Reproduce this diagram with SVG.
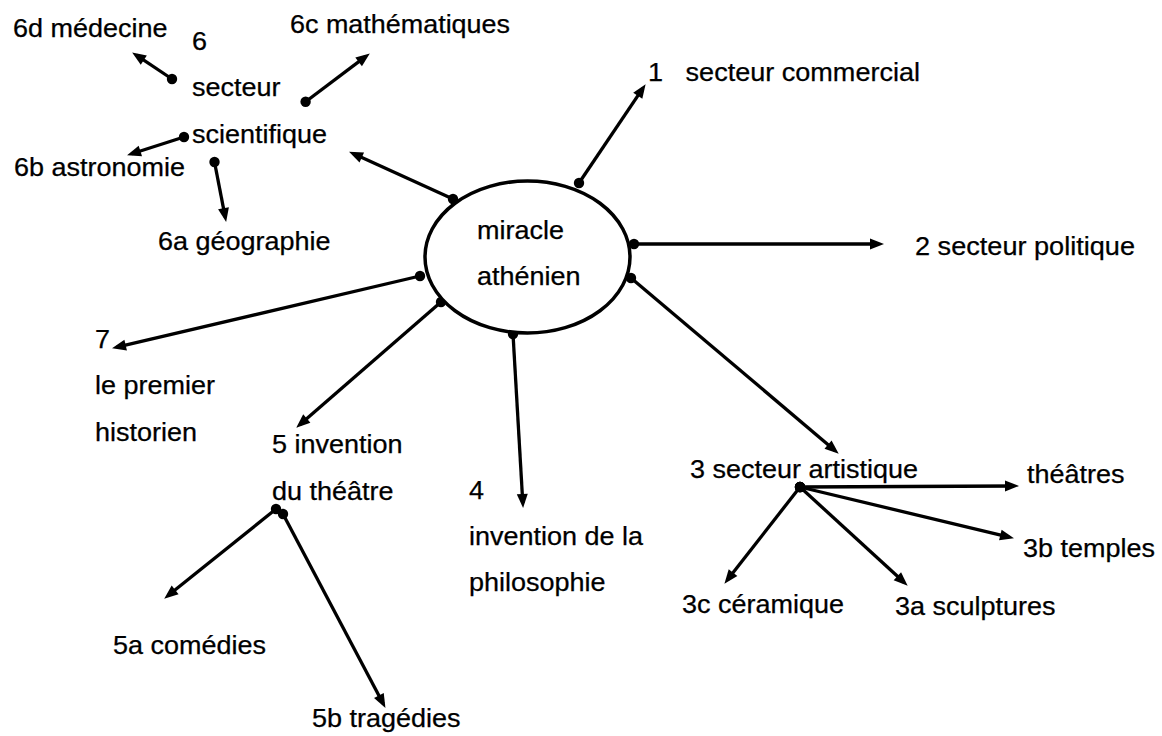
<svg xmlns="http://www.w3.org/2000/svg" width="1162" height="736" viewBox="0 0 1162 736">
<style>
text{font-family:"Liberation Sans",Arial,sans-serif;font-size:25px;fill:#000;stroke:#000;stroke-width:0.25;}
.c{fill:none;stroke:#000;stroke-width:3.3;marker-start:url(#dot);marker-end:url(#arr);}
</style>
<defs>
<marker id="arr" markerUnits="userSpaceOnUse" markerWidth="15" markerHeight="12" refX="9" refY="5.5" orient="auto" overflow="visible">
<path d="M0,0 L14,5.5 L0,11 Z" fill="#000"/>
</marker>
<marker id="dot" markerUnits="userSpaceOnUse" markerWidth="12" markerHeight="12" refX="6" refY="6" overflow="visible">
<circle cx="6" cy="6" r="5.2" fill="#000"/>
</marker>
</defs>
<rect width="1162" height="736" fill="#fff"/>
<g id="connectors">
<line class="c" x1="453" y1="199" x2="353.6" y2="153.7"/>
<line class="c" x1="579" y1="183" x2="642.8" y2="88.3"/>
<line class="c" x1="634" y1="244" x2="879" y2="244"/>
<line class="c" x1="631" y1="278" x2="834.9" y2="450.4"/>
<line class="c" x1="513" y1="334" x2="522.8" y2="503"/>
<line class="c" x1="441" y1="302" x2="300" y2="424.4"/>
<line class="c" x1="420" y1="276" x2="116.9" y2="347.1"/>
<line class="c" x1="172" y1="79" x2="136.3" y2="55.2"/>
<line class="c" x1="305.6" y1="101.7" x2="365.8" y2="56.4"/>
<line class="c" x1="184" y1="137" x2="131.8" y2="153.8"/>
<line class="c" x1="214.5" y1="162" x2="225.2" y2="217.1"/>
<line class="c" x1="276" y1="509" x2="168.1" y2="595.5"/>
<line class="c" x1="283" y1="514" x2="383.1" y2="703.5"/>
<line class="c" x1="800" y1="487" x2="1014" y2="486"/>
<line class="c" x1="800" y1="487" x2="1009.1" y2="537.1"/>
<line class="c" x1="800" y1="487" x2="904" y2="582.3"/>
<line class="c" x1="800" y1="487" x2="727.5" y2="579.8"/>
</g>
<g id="center">
<ellipse cx="527.5" cy="257" rx="102.5" ry="76" fill="#fff" stroke="#000" stroke-width="3.5"/>
<text x="477" y="239" textLength="87" lengthAdjust="spacingAndGlyphs">miracle</text>
<text x="477" y="285" textLength="103.6" lengthAdjust="spacingAndGlyphs">athénien</text>
</g>
<g id="n1"><text x="648" y="81" textLength="272" lengthAdjust="spacingAndGlyphs" style="white-space:pre">1   secteur commercial</text></g>
<g id="n2"><text x="915" y="255" textLength="220" lengthAdjust="spacingAndGlyphs">2 secteur politique</text></g>
<g id="n3"><text x="690" y="478" textLength="228" lengthAdjust="spacingAndGlyphs">3 secteur artistique</text></g>
<g id="n3t"><text x="1027" y="483" textLength="97.6" lengthAdjust="spacingAndGlyphs">théâtres</text></g>
<g id="n3b"><text x="1023" y="557" textLength="132" lengthAdjust="spacingAndGlyphs">3b temples</text></g>
<g id="n3c"><text x="682" y="613" textLength="162" lengthAdjust="spacingAndGlyphs">3c céramique</text></g>
<g id="n3a"><text x="895" y="615" textLength="160.6" lengthAdjust="spacingAndGlyphs">3a sculptures</text></g>
<g id="n4">
<text x="469" y="499" textLength="15" lengthAdjust="spacingAndGlyphs">4</text>
<text x="469" y="545" textLength="174" lengthAdjust="spacingAndGlyphs">invention de la</text>
<text x="469" y="591" textLength="136.6" lengthAdjust="spacingAndGlyphs">philosophie</text>
</g>
<g id="n5">
<text x="272" y="453" textLength="130.6" lengthAdjust="spacingAndGlyphs">5 invention</text>
<text x="272" y="500" textLength="121.6" lengthAdjust="spacingAndGlyphs">du théâtre</text>
</g>
<g id="n5a"><text x="113" y="654" textLength="153" lengthAdjust="spacingAndGlyphs">5a comédies</text></g>
<g id="n5b"><text x="312" y="727" textLength="148.6" lengthAdjust="spacingAndGlyphs">5b tragédies</text></g>
<g id="n6">
<text x="192" y="50" textLength="15" lengthAdjust="spacingAndGlyphs">6</text>
<text x="192" y="96" textLength="88.5" lengthAdjust="spacingAndGlyphs">secteur</text>
<text x="192" y="143" textLength="135" lengthAdjust="spacingAndGlyphs">scientifique</text>
</g>
<g id="n6a"><text x="158" y="250" textLength="172.6" lengthAdjust="spacingAndGlyphs">6a géographie</text></g>
<g id="n6b"><text x="14" y="176" textLength="171" lengthAdjust="spacingAndGlyphs">6b astronomie</text></g>
<g id="n6c"><text x="290" y="33" textLength="220" lengthAdjust="spacingAndGlyphs">6c mathématiques</text></g>
<g id="n6d"><text x="13" y="37" textLength="154.6" lengthAdjust="spacingAndGlyphs">6d médecine</text></g>
<g id="n7">
<text x="95" y="348" textLength="15" lengthAdjust="spacingAndGlyphs">7</text>
<text x="95" y="394" textLength="120" lengthAdjust="spacingAndGlyphs">le premier</text>
<text x="95" y="441" textLength="102" lengthAdjust="spacingAndGlyphs">historien</text>
</g>
</svg>
